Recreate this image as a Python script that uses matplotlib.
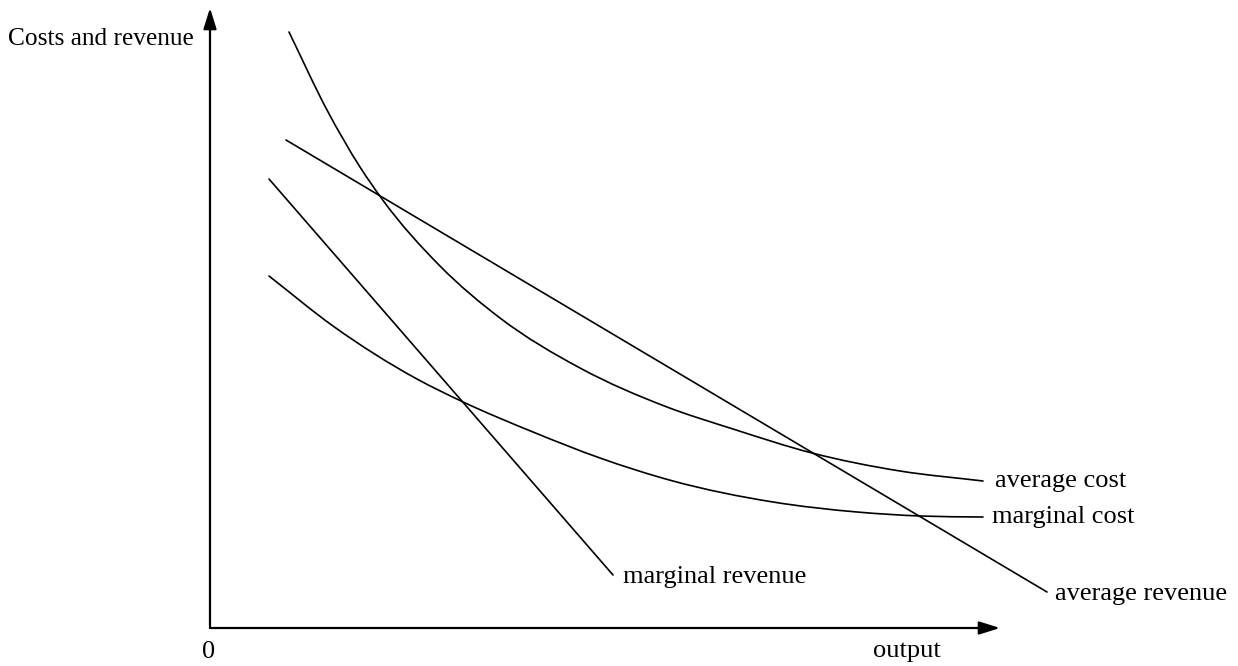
import matplotlib
matplotlib.use("Agg")
import matplotlib.pyplot as plt
from matplotlib.path import Path
from matplotlib.patches import PathPatch

# Data (arbitrary units; origin at the axes corner)
ar_x = [7.6, 83.7]
ar_y = [48.8, 3.6]

mr_x = [5.9, 40.3]
mr_y = [44.9, 5.3]

ac_x = [7.9, 11.7, 15.0, 17.2, 23.0, 29.0, 37.0, 45.7, 52.3, 60.2, 69.0, 77.3]
ac_y = [59.6, 51.8, 46.1, 42.9, 36.2, 31.0, 26.0, 22.1, 19.9, 17.5, 15.7, 14.7]

mc_x = [5.9, 12.3, 20.7, 25.1, 32.3, 39.0, 46.3, 56.3, 64.7, 71.0, 77.3]
mc_y = [35.2, 30.2, 24.9, 22.7, 19.6, 17.0, 14.7, 12.6, 11.6, 11.2, 11.1]

curve_labels = ["average cost", "marginal cost", "marginal revenue", "average revenue"]
y_label = "Costs and revenue"
x_label = "output"
origin_label = "0"

plt.rcParams['font.family'] = ['Liberation Serif', 'DejaVu Serif']

fig = plt.figure(figsize=(12.38, 6.66), dpi=100)
ax = fig.add_axes([0, 0, 1, 1])
ax.set_xlim(-21.0, 102.8)
ax.set_ylim(-3.8, 62.8)
ax.axis('off')


def smooth_path(xs, ys):
    """Smooth curve through the given points using cubic Hermite segments."""
    n = len(xs)
    h = [xs[i + 1] - xs[i] for i in range(n - 1)]
    d = [(ys[i + 1] - ys[i]) / h[i] for i in range(n - 1)]
    m = [d[0]]
    for i in range(1, n - 1):
        m.append((d[i - 1] * h[i] + d[i] * h[i - 1]) / (h[i - 1] + h[i]))
    m.append(d[-1])
    verts = [(xs[0], ys[0])]
    codes = [Path.MOVETO]
    for i in range(n - 1):
        c1 = (xs[i] + h[i] / 3.0, ys[i] + m[i] * h[i] / 3.0)
        c2 = (xs[i + 1] - h[i] / 3.0, ys[i + 1] - m[i + 1] * h[i] / 3.0)
        verts += [c1, c2, (xs[i + 1], ys[i + 1])]
        codes += [Path.CURVE4] * 3
    return Path(verts, codes)


# axes with arrows
arrow_kw = dict(arrowstyle='-|>,head_length=0.7,head_width=0.22', lw=1.6,
                color='black', mutation_scale=18, shrinkA=0, shrinkB=0)
ax.annotate('', xy=(0, 62.0), xytext=(0, 0), arrowprops=arrow_kw)
ax.annotate('', xy=(79.0, 0), xytext=(0, 0), arrowprops=arrow_kw)

lw = 1.2
for xs, ys in [(ac_x, ac_y), (mc_x, mc_y)]:
    ax.add_patch(PathPatch(smooth_path(xs, ys), facecolor='none',
                           edgecolor='black', lw=lw, capstyle='round'))
ax.plot(ar_x, ar_y, color='black', lw=lw, solid_capstyle='round')
ax.plot(mr_x, mr_y, color='black', lw=lw, solid_capstyle='round')

fs = 19
ax.text(78.5, 14.1, curve_labels[0], fontsize=fs, ha='left', va='baseline')
ax.text(78.2, 10.5, curve_labels[1], fontsize=fs, ha='left', va='baseline')
ax.text(41.3, 4.5, curve_labels[2], fontsize=fs, ha='left', va='baseline')
ax.text(84.5, 2.8, curve_labels[3], fontsize=fs, ha='left', va='baseline')

ax.text(-20.2, 58.3, y_label, fontsize=18.3, ha='left', va='baseline')
ax.text(69.7, -2.9, x_label, fontsize=fs, ha='center', va='baseline')
ax.text(-0.1, -3.0, origin_label, fontsize=fs, ha='center', va='baseline')

fig.savefig('out.png', dpi=100)
